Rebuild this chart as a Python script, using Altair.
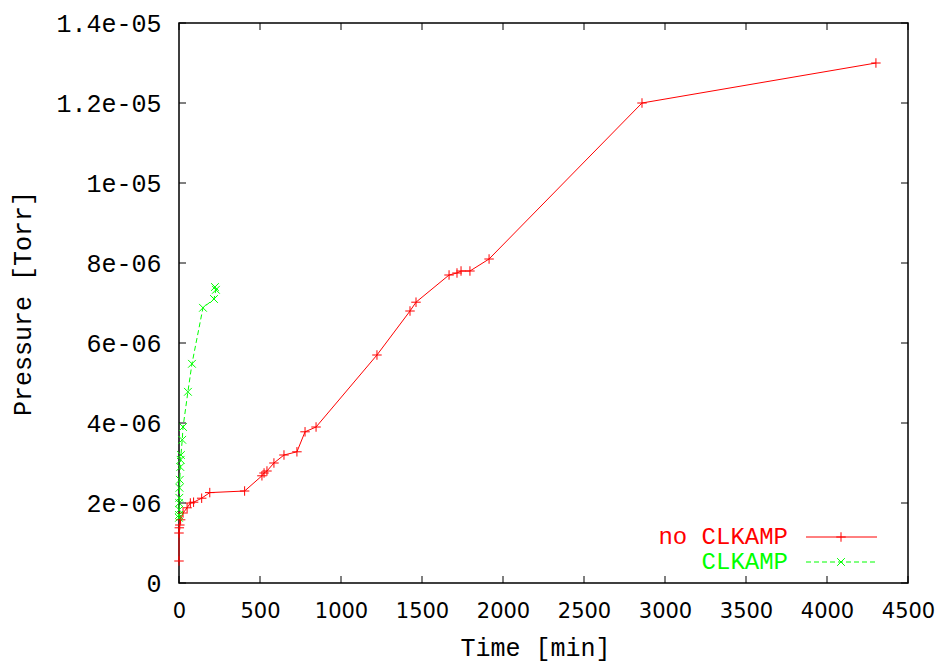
import altair as alt
import pandas as pd

# ---- data ----
series = ["no CLKAMP", "CLKAMP"]
colors = ["#ff0000", "#00ff00"]

red_time = [0, 0, 2, 5, 10, 25, 50, 70, 90, 140, 190, 405, 512, 525, 543, 586,
            648, 728, 778, 846, 1222, 1426, 1463, 1667, 1716, 1741, 1796, 1914,
            2858, 4302]
red_p = [0.55, 1.25, 1.38, 1.45, 1.58, 1.75, 1.88, 2.0, 2.02, 2.12, 2.26, 2.3,
         2.68, 2.75, 2.8, 3.0, 3.2, 3.28, 3.78, 3.9, 5.7, 6.8, 7.02, 7.7, 7.75,
         7.8, 7.8, 8.1, 12.0, 13.0]  # x 1e-6 Torr

green_time = [0, 0, 1, 1, 2, 3, 5, 8, 10, 12, 20, 25, 55, 80, 148, 216, 228, 222]
green_p = [1.63, 1.7, 1.83, 2.0, 2.13, 2.38, 2.58, 2.9, 3.08, 3.2, 3.58, 3.9,
           4.78, 5.48, 6.88, 7.1, 7.33, 7.4]  # x 1e-6 Torr

x_ticks = [0, 500, 1000, 1500, 2000, 2500, 3000, 3500, 4000, 4500]
y_ticks_e6 = [0, 2, 4, 6, 8, 10, 12, 14]

W, H = 729, 560
MONO = "Liberation Mono"
SANS = "DejaVu Sans"

red = pd.DataFrame({"t": red_time, "p": [v * 1e-6 for v in red_p],
                    "i": list(range(len(red_time)))})
green = pd.DataFrame({"t": green_time, "p": [v * 1e-6 for v in green_p],
                      "i": list(range(len(green_time)))})
yt = [v * 1e-6 for v in y_ticks_e6]

xs = alt.Scale(domain=[0, 4500], nice=False, zero=False)
ys = alt.Scale(domain=[0, 1.4e-5], nice=False, zero=False)

x_axis = alt.Axis(values=x_ticks, format="d", domain=False, ticks=False, grid=False,
                  labelFont=SANS, labelFontSize=21, labelColor="black",
                  labelPadding=17, labelFlush=False,
                  title="Time [min]", titleFont=MONO, titleFontSize=25,
                  titleFontWeight="normal", titleColor="black",
                  titleBaseline="middle", titleAlign="center", titleX=356, titleY=64)
y_axis = alt.Axis(values=yt, domain=False, ticks=False, grid=False,
                  labelFont=MONO, labelFontSize=25, labelColor="black",
                  labelPadding=18, labelFlush=False,
                  labelExpr="datum.value == 0 ? '0' : replace(format(datum.value, '.2~e'), 'e-', 'e-0')",
                  title="Pressure [Torr]", titleFont=MONO, titleFontSize=25,
                  titleFontWeight="normal", titleColor="black",
                  titleBaseline="middle", titleX=-157)

X = alt.X("t:Q", scale=xs, axis=x_axis, title="Time [min]")
Y = alt.Y("p:Q", scale=ys, axis=y_axis, title="Pressure [Torr]")

PLUS = "M-1,0L1,0M0,-1L0,1"
CROSS = "M-1,-1L1,1M-1,1L1,-1"
DASH = [5, 3]

red_line = alt.Chart(red).mark_line(color=colors[0], strokeWidth=1).encode(
    x=X, y=Y, order="i:Q")
red_pts = alt.Chart(red).mark_point(shape=PLUS, filled=False, color=colors[0],
                                    size=90, strokeWidth=1, opacity=1).encode(
    x=X, y=Y)

green_line = alt.Chart(green).mark_line(color=colors[1], strokeWidth=1,
                                        strokeDash=DASH).encode(
    x=X, y=Y, order="i:Q")
green_pts = alt.Chart(green).mark_point(shape=CROSS, filled=False, color=colors[1],
                                        size=60, strokeWidth=1, opacity=1).encode(
    x=X, y=Y)

# inward ticks on all four sides
xt = pd.DataFrame({"t": x_ticks})
ytd = pd.DataFrame({"p": yt})
tick_bottom = alt.Chart(xt).mark_rule(color="black", strokeWidth=1).encode(
    x=X, y=alt.value(H), y2=alt.value(H - 7))
tick_top = alt.Chart(xt).mark_rule(color="black", strokeWidth=1).encode(
    x=X, y=alt.value(0), y2=alt.value(7))
tick_left = alt.Chart(ytd).mark_rule(color="black", strokeWidth=1).encode(
    y=Y, x=alt.value(0), x2=alt.value(7))
tick_right = alt.Chart(ytd).mark_rule(color="black", strokeWidth=1).encode(
    y=Y, x=alt.value(W - 7), x2=alt.value(W))

# legend (inside, bottom right)
def legend_entry(idx, ypos, dash, shape, size):
    d = pd.DataFrame({"label": [series[idx]]})
    txt = alt.Chart(d).mark_text(align="right", baseline="middle", font=MONO,
                                 fontSize=24, color=colors[idx]).encode(
        text="label:N", x=alt.value(609), y=alt.value(ypos))
    rule_kw = dict(color=colors[idx], strokeWidth=1)
    if dash:
        rule_kw["strokeDash"] = dash
    ln = alt.Chart(d).mark_rule(**rule_kw).encode(
        x=alt.value(627), x2=alt.value(698), y=alt.value(ypos))
    pt = alt.Chart(d).mark_point(shape=shape, filled=False, color=colors[idx],
                                 size=size, strokeWidth=1, opacity=1).encode(
        x=alt.value(662), y=alt.value(ypos))
    return [txt, ln, pt]

leg = legend_entry(0, 514, None, PLUS, 90) + legend_entry(1, 539, DASH, CROSS, 60)

chart = alt.layer(
    red_line, green_line, red_pts, green_pts,
    tick_bottom, tick_top, tick_left, tick_right, *leg
).properties(
    width=W, height=H,
    autosize=alt.AutoSizeParams(type="none"),
    padding={"left": 171, "top": 15, "right": 28, "bottom": 80},
    background="white",
).configure_view(stroke="black", strokeWidth=1.5)

chart.save("out.html", embed_options={"renderer": "svg", "actions": False})
